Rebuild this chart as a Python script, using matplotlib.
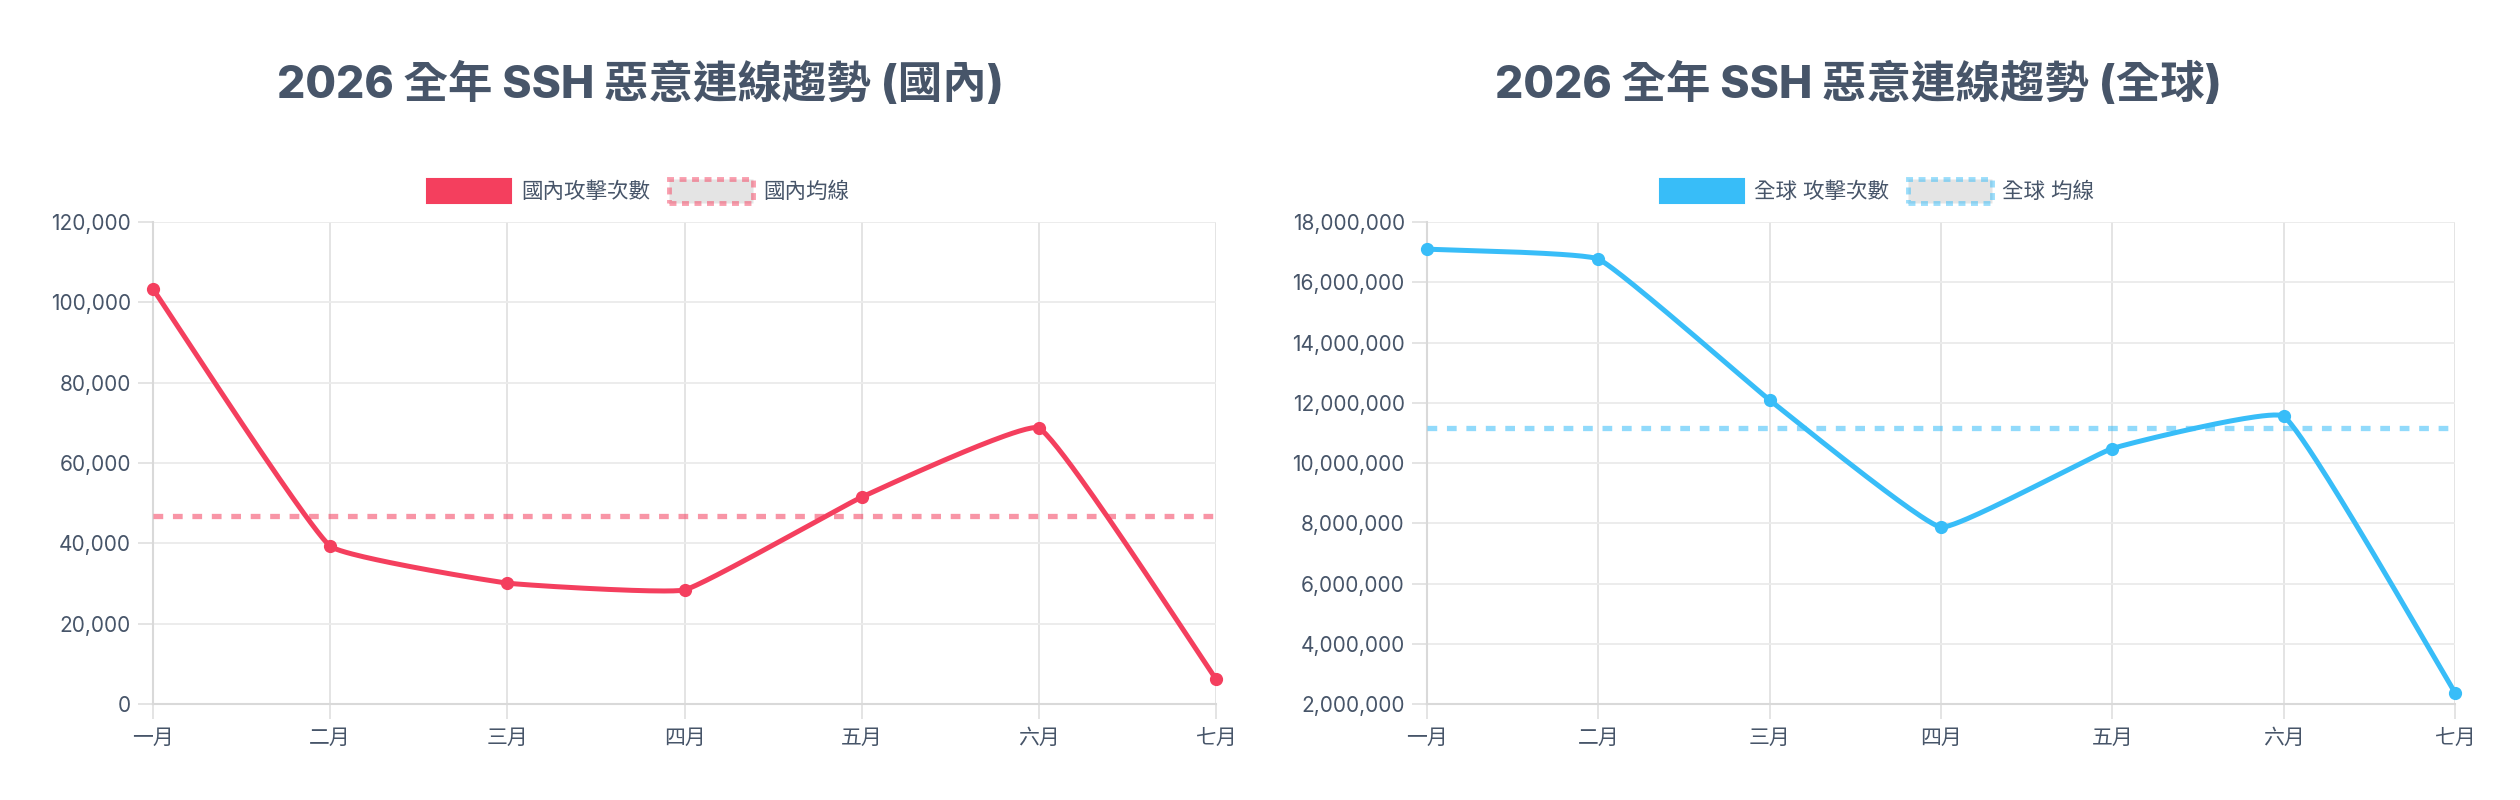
import numpy as np
import matplotlib
matplotlib.use("Agg")
import matplotlib.pyplot as plt
from matplotlib.patches import Patch
from matplotlib.ticker import FuncFormatter, MultipleLocator

plt.rcParams['font.family'] = ['Inter', 'Noto Sans CJK TC', 'DejaVu Sans']
plt.rcParams['lines.scale_dashes'] = False

# datos
meses = ['一月', '二月', '三月', '四月', '五月', '六月', '七月']
nacional = [103300, 39300, 30100, 28400, 51500, 68700, 6200]
mundial = [17100000, 16770000, 12090000, 7870000, 10480000, 11550000, 2380000]

titulo_nacional = '2026 全年 SSH 惡意連線趨勢 (國內)'
titulo_mundial = '2026 全年 SSH 惡意連線趨勢 (全球)'
leyenda_nacional = ['國內攻擊次數', '國內均線']
leyenda_mundial = ['全球 攻擊次數', '全球 均線']

ROJO = '#F43F5E'
AZUL = '#38BDF8'
TEXTO = '#475569'
GRILLA = '#ebebeb'

W, H = 2520, 800
TENSION = 0.1


def curva(xs, ys, ancho, alto, ymin, ymax, n=50):
    # spline tipo chart.js calculada en pixeles, solo para dibujar la linea
    px = np.asarray(xs, float) / (len(xs) - 1) * ancho
    py = (ymax - np.asarray(ys, float)) / (ymax - ymin) * alto
    pts = np.column_stack([px, py])
    k = len(pts)
    c_ant = np.zeros_like(pts)
    c_sig = np.zeros_like(pts)
    for i in range(k):
        a = pts[max(i - 1, 0)]
        b = pts[i]
        c = pts[min(i + 1, k - 1)]
        d01 = np.hypot(*(b - a))
        d12 = np.hypot(*(c - b))
        tot = d01 + d12
        s01 = d01 / tot if tot else 0
        s12 = d12 / tot if tot else 0
        c_ant[i] = b - TENSION * s01 * (c - a)
        c_sig[i] = b + TENSION * s12 * (c - a)
    c_ant[:, 1] = np.clip(c_ant[:, 1], 0, alto)
    c_sig[:, 1] = np.clip(c_sig[:, 1], 0, alto)
    t = np.linspace(0, 1, n)[:, None]
    tramos = []
    for i in range(k - 1):
        p0, p1, p2, p3 = pts[i], c_sig[i], c_ant[i + 1], pts[i + 1]
        tramos.append((1 - t)**3 * p0 + 3 * (1 - t)**2 * t * p1 + 3 * (1 - t) * t**2 * p2 + t**3 * p3)
    q = np.vstack(tramos)
    qx = q[:, 0] / ancho * (len(xs) - 1)
    qy = ymax - q[:, 1] / alto * (ymax - ymin)
    return qx, qy


def grafico(fig, caja, valores, color, ymin, ymax, paso, titulo, etiquetas, xtitulo, xleyenda):
    ax = fig.add_axes(caja)
    x = np.arange(len(meses))
    promedio = np.mean(valores)

    cx, cy = curva(x, valores, caja[2] * W, caja[3] * H, ymin, ymax)
    ax.plot(cx, cy, color=color, lw=3.6, solid_capstyle='round', zorder=4, clip_on=False)
    ax.plot(x, valores, 'o', color=color, markersize=8.5, zorder=5, clip_on=False)
    ax.axhline(promedio, color=color, alpha=0.55, lw=3.8, dashes=(7, 7), zorder=3)

    ax.set_xlim(0, len(meses) - 1)
    ax.set_ylim(ymin, ymax)
    ax.set_xticks(x)
    ax.set_xticklabels(meses)
    ax.yaxis.set_major_locator(MultipleLocator(paso))
    ax.yaxis.set_major_formatter(FuncFormatter(lambda v, p: f'{int(v):,}'))

    ax.grid(True, color=GRILLA, lw=1.3)
    ax.xaxis.grid(True, color='#e2e2e2', lw=1.3)
    ax.set_axisbelow(True)
    for lado in ['top', 'right']:
        ax.spines[lado].set_visible(False)
    for lado in ['left', 'bottom']:
        ax.spines[lado].set_color('#d9d9d9')
        ax.spines[lado].set_linewidth(1.5)
    ax.tick_params(axis='both', colors='#e2e2e2', length=11, width=1.3,
                   labelcolor=TEXTO, labelsize=15)
    ax.tick_params(axis='x', pad=6)
    ax.tick_params(axis='y', pad=5)

    fig.text(xtitulo / W, 1 - 85 / H, titulo, ha='center', va='center',
             fontsize=32, fontweight='heavy', color=TEXTO)

    manijas = [
        Patch(facecolor=color, edgecolor=color, lw=1.5),
        Patch(facecolor='#e4e4e4', edgecolor=(*matplotlib.colors.to_rgb(color), 0.5),
              lw=3.5, linestyle=(0, (5, 4))),
    ]
    fig.legend(manijas, etiquetas, loc='center', bbox_to_anchor=(xleyenda / W, 1 - 191 / H),
               ncol=2, frameon=False, fontsize=15.5, labelcolor=TEXTO,
               handlelength=3.9, handleheight=1.3, handletextpad=0.45, columnspacing=0.9)
    return ax


fig = plt.figure(figsize=(W / 100, H / 100), dpi=100)
fig.patch.set_facecolor('white')

grafico(fig, [153 / W, 96 / H, (1216 - 153) / W, 482 / H], nacional, ROJO,
        0, 120000, 20000, titulo_nacional, leyenda_nacional, 640, 638)
grafico(fig, [1427 / W, 96 / H, (2455 - 1427) / W, 482 / H], mundial, AZUL,
        2000000, 18000000, 2000000, titulo_mundial, leyenda_mundial, 1858, 1877)

fig.savefig('out.png', dpi=100, facecolor='white')
